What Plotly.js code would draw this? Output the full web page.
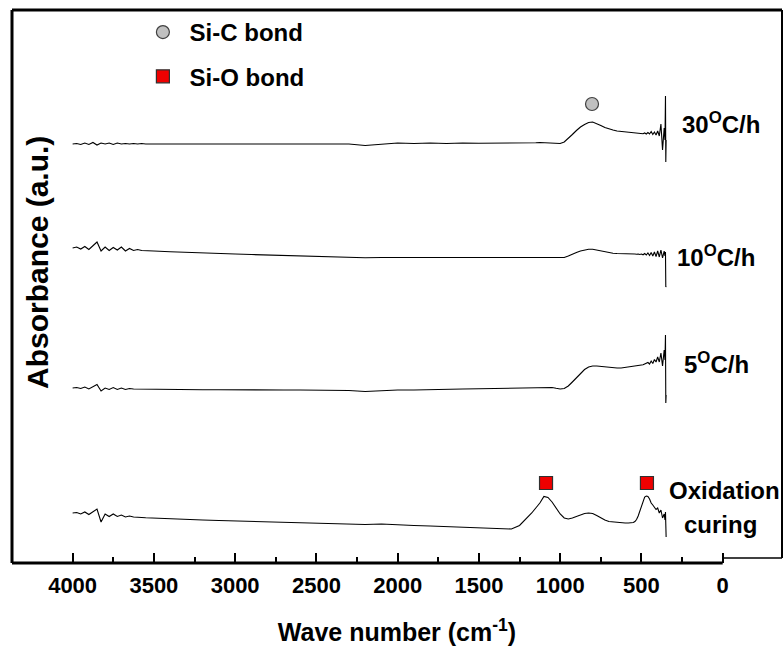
<!DOCTYPE html>
<html>
<head>
<meta charset="utf-8">
<script src="https://cdn.plot.ly/plotly-3.0.1.min.js"></script>
<style>
  html, body { margin: 0; padding: 0; background: #ffffff; }
  #chart { width: 784px; height: 655px; }
</style>
</head>
<body>
<div id="chart"></div>
<script>
// Shared wavenumber grid (cm-1)
const wavenumber = [
  4000,3975,3950,3925,3900,3875,3850,3825,3800,3775,3750,3725,3700,3675,3650,3625,3600,3575,3550,3525,3500,
  3400,3300,3200,3100,3000,2900,2800,2700,2600,2500,2400,2300,2200,2100,2000,1900,1800,1700,1600,1500,1400,1300,
  1250,1225,1200,1175,1150,1125,1100,1075,1050,1025,1000,975,950,925,900,875,850,825,800,775,750,725,700,675,650,625,600,
  580,570,560,550,540,530,520,510,500,490,480,470,460,450,440,430,420,410,400,390,380,370,360,
  355,352,350,348
];

// Absorbance (a.u., offset spectra)
const abs30 = [
  419,419.5,418.5,420,418.5,420.5,418,420,419,420,418.5,420,419,419.5,419,419.5,419,419.5,419,419.2,419,
  419,419,419.5,419.5,419.5,419.5,419.5,419.5,419.5,419.5,419.5,419,417.5,419,420,419.5,420,419.5,420,419.7,419.7,419.7,
  419.8,420,420,420.2,420.2,420.5,420.2,420,420,419.7,419.5,421,424.5,428.5,432.5,436,438.5,440.5,441,439.5,437.5,435.5,434,433,432,431.5,431,
  430.7,430.5,430.3,430,430,429.8,430,429.5,429.7,429.2,430,429,430.5,429,431.5,428.5,431,428,432,427,439,413,435,
  423,467,401,423
];
const abs10 = [
  315,316,314,316.5,313.5,317,321,312,316,312.5,315.5,313,316,312,314.5,312.5,313.5,312.5,312.5,312,312,
  311.2,310.5,310,309.5,309,308.5,308,307.5,307,306.5,306,305.7,305.2,305.5,305.5,305,305.2,305,305,305,305,305,
  305,305,304.8,305,305,304.8,305,305,305,305,305,305.5,307,309,310.5,312,313,313.7,313.8,313,312,311,310.2,309.8,309.5,309.5,309.2,
  309,309,309,308.8,309,308.7,309,308.5,309,308.2,309.5,308,310,307.5,310.5,307,311,306.5,312,306,313,305,312,
  307,311,276,277
];
const abs5 = [
  175,175.5,174.5,176,174,176.5,178.5,172,175,173.5,175.5,173.5,175,173.5,174.5,174,174,174,173.8,174,173.7,
  173.5,173.5,173.3,173.2,173,173,173,173,173,172.8,172.5,172.5,171.5,172.5,173,173,173.5,173.5,174,174.2,174.5,174.7,
  174.8,175,175,175.2,175.4,175.6,175.7,175.7,175.5,174.7,174,174.5,177,181,185.5,190,193.5,196,197,197,196.5,196,195.5,195,195,195,195.5,
  195.7,196,196.2,196.5,196.7,197,197.2,197.5,198,198.2,199,199.5,200.5,199,202,199.5,203.5,201,206,201,210,197,213,
  203,228,160,168
];
const absOx = [
  50,50.5,49,51,48.5,51.5,54,41,49,46.5,49,46.5,48,46,47,46,46,45.5,45.2,45,44.8,
  44.2,43.5,43,42.5,42,41.5,41,40.5,40,39.5,39.5,39,38.5,39,38,37.5,37,36.5,36,35.5,35,34,
  37.5,41.5,45.5,50,55,60,66.5,65.5,61,55,49,45,44,45,46.5,48,49.5,50,49.5,47.5,45,43,41.5,41,40.5,40.2,40,
  40,40,40,40.5,41.5,43.5,47,51.5,57,62,66,67,66.5,64,60,58,56,53.5,55,50,53,45,49,
  43,51,26,26
];

// Band markers
const siC_x = [804];
const siC_y = [459];
const siO_x = [1087, 466];
const siO_y = [80, 80];

const seriesLabels = ["30<sup>O</sup>C/h", "10<sup>O</sup>C/h", "5<sup>O</sup>C/h", "Oxidation", "curing"];
const xTickVals = [4000, 3500, 3000, 2500, 2000, 1500, 1000, 500, 0];
const xTickText = ["4000", "3500", "3000", "2500", "2000", "1500", "1000", "500", "0"];
const xMinorVals = [3750, 3250, 2750, 2250, 1750, 1250, 750, 250];

const FONT = "Arial, 'Liberation Sans', sans-serif";
const lineStyle = { color: "#000000", width: 1.1 };

const traces = [
  { x: wavenumber, y: abs30, type: "scatter", mode: "lines", line: lineStyle, showlegend: false, hoverinfo: "skip" },
  { x: wavenumber, y: abs10, type: "scatter", mode: "lines", line: lineStyle, showlegend: false, hoverinfo: "skip" },
  { x: wavenumber, y: abs5, type: "scatter", mode: "lines", line: lineStyle, showlegend: false, hoverinfo: "skip" },
  { x: wavenumber, y: absOx, type: "scatter", mode: "lines", line: lineStyle, showlegend: false, hoverinfo: "skip" },
  { x: siC_x, y: siC_y, type: "scatter", mode: "markers", name: "\u00A0Si-C bond", legendgroup: "a",
    marker: { symbol: "circle", size: 13, color: "#c0c0c0", line: { color: "#404040", width: 1.2 } } },
  { x: siO_x, y: siO_y, type: "scatter", mode: "markers", name: "\u00A0Si-O bond", legendgroup: "b",
    marker: { symbol: "square", size: 13, color: "#ee0000", line: { color: "#303030", width: 1.2 } } }
];

const labelFont = { family: FONT, size: 24, color: "#000000", weight: "bold" };

const layout = {
  width: 784, height: 655,
  margin: { l: 12, r: 2, t: 10, b: 92 },
  paper_bgcolor: "#ffffff", plot_bgcolor: "#ffffff",
  showlegend: true,
  legend: {
    x: 0.17, y: 1.0, xanchor: "left", yanchor: "top",
    bgcolor: "rgba(0,0,0,0)", borderwidth: 0,
    font: labelFont, traceorder: "grouped", tracegroupgap: 10
  },
  xaxis: {
    range: [4373, -365],
    showgrid: false, zeroline: false, showline: false,
    tickmode: "array", tickvals: xTickVals, ticktext: xTickText,
    ticks: "inside", ticklen: 10, tickwidth: 2, tickcolor: "#000000",
    ticklabelstandoff: 7,
    tickfont: { family: FONT, size: 22, color: "#000000", weight: "bold" },
    minor: { tickmode: "array", tickvals: xMinorVals, ticks: "inside", ticklen: 6, tickwidth: 2, tickcolor: "#000000" },
    title: { text: "Wave number (cm<sup>-1</sup>)", font: { family: FONT, size: 25, color: "#000000", weight: "bold" }, standoff: 26 },
    automargin: false
  },
  yaxis: {
    range: [0, 553],
    showgrid: false, zeroline: false, showline: false,
    showticklabels: false, ticks: "",
    automargin: false
  },
  shapes: [
    { type: "line", xref: "paper", yref: "paper", x0: 0, x1: 1, y0: 1, y1: 1, line: { color: "#000", width: 3 } },
    { type: "line", xref: "paper", yref: "paper", x0: 0, x1: 0, y0: 0, y1: 1, line: { color: "#000", width: 3 } },
    { type: "line", xref: "paper", yref: "paper", x0: 1, x1: 1, y0: 0.009, y1: 1, line: { color: "#000", width: 2 } },
    { type: "line", xref: "x", yref: "paper", x0: 4373, x1: 0, y0: 0, y1: 0, line: { color: "#000", width: 3 } },
    { type: "line", xref: "x", yref: "paper", x0: 0, x1: -365, y0: 0.009, y1: 0.009, line: { color: "#000", width: 1.5 } }
  ],
  annotations: [
    { text: "Absorbance (a.u.)", textangle: -90, xref: "paper", yref: "paper", x: 0.0338, y: 0.5425,
      xanchor: "center", yanchor: "middle", showarrow: false,
      font: { family: FONT, size: 30, color: "#000000", weight: "bold" } },
    { text: seriesLabels[0], xref: "paper", yref: "paper", x: 0.8675, y: 0.795, xanchor: "left", yanchor: "middle", showarrow: false, font: labelFont },
    { text: seriesLabels[1], xref: "paper", yref: "paper", x: 0.861, y: 0.555, xanchor: "left", yanchor: "middle", showarrow: false, font: labelFont },
    { text: seriesLabels[2], xref: "paper", yref: "paper", x: 0.870, y: 0.362, xanchor: "left", yanchor: "middle", showarrow: false, font: labelFont },
    { text: seriesLabels[3], xref: "paper", yref: "paper", x: 0.851, y: 0.132, xanchor: "left", yanchor: "middle", showarrow: false, font: labelFont },
    { text: seriesLabels[4], xref: "paper", yref: "paper", x: 0.870, y: 0.069, xanchor: "left", yanchor: "middle", showarrow: false, font: labelFont }
  ]
};

Plotly.newPlot("chart", traces, layout, { staticPlot: true, displayModeBar: false });
</script>
</body>
</html>
